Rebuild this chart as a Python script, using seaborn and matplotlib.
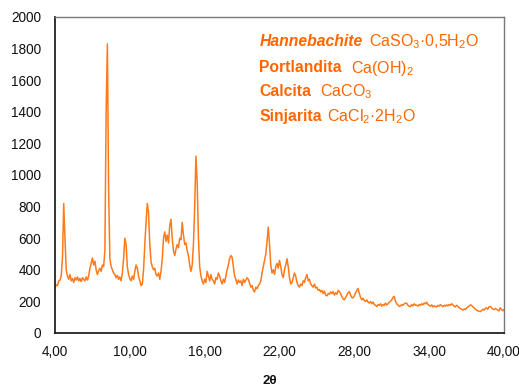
import numpy as np
import pandas as pd
import matplotlib
matplotlib.use("Agg")
import matplotlib.pyplot as plt
import seaborn as sns

# ---- data (2theta from 4.0 to 40.0 in steps of 0.1) ----
theta_start = 4.0
theta_step = 0.1
intensity = [
    # 4.0 - 4.9
    285, 305, 300, 330, 335, 360, 480, 820, 600, 400,
    # 5.0 - 5.9
    360, 340, 370, 330, 345, 320, 350, 335, 355, 330,
    # 6.0 - 6.9
    345, 325, 350, 340, 330, 355, 335, 360, 410, 440,
    # 7.0 - 7.9
    475, 430, 455, 400, 370, 395, 410, 390, 430, 420,
    # 8.0 - 8.9
    520, 1400, 1830, 900, 470, 420, 400, 380, 370, 350,
    # 9.0 - 9.9
    365, 340, 355, 330, 380, 470, 600, 560, 420, 370,
    # 10.0 - 10.9
    345, 330, 360, 340, 390, 430, 410, 360, 330, 300,
    # 11.0 - 11.9
    310, 400, 560, 700, 820, 760, 560, 450, 420, 400,
    # 12.0 - 12.9
    410, 370, 360, 380, 340, 390, 470, 600, 640, 580,
    # 13.0 - 13.9
    620, 570, 680, 720, 600, 520, 490, 530, 560, 540,
    # 14.0 - 14.9
    600, 590, 700, 620, 560, 570, 520, 490, 430, 390,
    # 15.0 - 15.9
    430, 560, 800, 1120, 950, 600, 420, 360, 330, 310,
    # 16.0 - 16.9
    340, 320, 390, 360, 330, 370, 340, 330, 310, 350,
    # 17.0 - 17.9
    340, 380, 360, 330, 310, 340, 320, 360, 400, 430,
    # 18.0 - 18.9
    470, 490, 480, 420, 360, 340, 310, 335, 320, 330,
    # 19.0 - 19.9
    300, 340, 320, 335, 350, 340, 315, 290, 300, 270,
    # 20.0 - 20.9
    260, 290, 280, 300, 310, 330, 380, 420, 460, 500,
    # 21.0 - 21.9
    580, 670, 560, 430, 380, 400, 370, 420, 440, 410,
    # 22.0 - 22.9
    460, 420, 370, 350, 400, 430, 470, 420, 350, 310,
    # 23.0 - 23.9
    320, 350, 380, 360, 320, 300, 290, 310, 300, 330,
    # 24.0 - 24.9
    320, 350, 370, 330, 340, 310, 300, 290, 310, 285,
    # 25.0 - 25.9
    290, 270, 275, 260, 270, 250, 265, 240, 235, 250,
    # 26.0 - 26.9
    245, 260, 250, 262, 240, 255, 245, 270, 262, 250,
    # 27.0 - 27.9
    230, 215, 210, 225, 240, 255, 262, 240, 225, 222,
    # 28.0 - 28.9
    235, 255, 270, 282, 250, 225, 210, 220, 205, 200,
    # 29.0 - 29.9
    210, 195, 190, 200, 185, 195, 180, 175, 168, 180,
    # 30.0 - 30.9
    175, 185, 170, 180, 175, 190, 177, 185, 195, 200,
    # 31.0 - 31.9
    210, 225, 232, 200, 185, 178, 168, 172, 180, 175,
    # 32.0 - 32.9
    185, 190, 188, 175, 170, 167, 180, 172, 185, 175,
    # 33.0 - 33.9
    177, 170, 180, 175, 185, 178, 190, 185, 195, 180,
    # 34.0 - 34.9
    175, 170, 178, 165, 172, 168, 165, 175, 170, 180,
    # 35.0 - 35.9
    172, 168, 175, 170, 178, 172, 180, 175, 185, 178,
    # 36.0 - 36.9
    170, 165, 175, 168, 160, 155, 150, 145, 152, 148,
    # 37.0 - 37.9
    158, 165, 170, 178, 175, 165, 160, 150, 145, 140,
    # 38.0 - 38.9
    138, 135, 142, 150, 145, 155, 160, 150, 165, 168,
    # 39.0 - 39.9
    160, 152, 148, 155, 150, 145, 140, 160, 148, 140,
    # 40.0
    150,
]
two_theta = [round(theta_start + i * theta_step, 1) for i in range(len(intensity))]

x_ticks = [4, 10, 16, 22, 28, 34, 40]
x_tick_labels = ["4,00", "10,00", "16,00", "22,00", "28,00", "34,00", "40,00"]
y_ticks = list(range(0, 2001, 200))

legend_names = ["Hannebachite", "Portlandita", "Calcita", "Sinjarita"]
legend_styles = ["italic", "normal", "normal", "normal"]
legend_formulas = ["CaSO$_3$·0,5H$_2$O", "Ca(OH)$_2$", "CaCO$_3$", "CaCl$_2$·2H$_2$O"]

df = pd.DataFrame({"2theta": two_theta, "I": intensity})

# ---- style ----
sns.set_theme(style="white")
plt.rcParams["font.family"] = ["Liberation Sans", "DejaVu Sans"]
plt.rcParams["mathtext.fontset"] = "custom"
plt.rcParams["mathtext.rm"] = "Liberation Sans"
plt.rcParams["mathtext.it"] = "Liberation Sans:italic"
plt.rcParams["mathtext.bf"] = "Liberation Sans:bold"

W, H = 519, 388
fig = plt.figure(figsize=(W / 100, H / 100), dpi=100)
ax = fig.add_axes([55 / W, 1 - 333 / H, (504 - 55) / W, (333 - 17) / H])

line_color = "#FF7A1A"
text_color = "#FF6600"

sns.lineplot(data=df, x="2theta", y="I", ax=ax, color=line_color, linewidth=1.1)

ax.set_xlim(4, 40)
ax.set_ylim(0, 2000)
ax.set_xticks(x_ticks)
ax.set_xticklabels(x_tick_labels)
ax.set_yticks(y_ticks)
ax.tick_params(axis="both", length=0, labelsize=9.8, colors="#111111")
ax.tick_params(axis="y", pad=10)
ax.tick_params(axis="x", pad=9)
ax.set_xlabel("")
ax.set_ylabel("")

for side in ["left", "bottom"]:
    ax.spines[side].set_color("#222222")
    ax.spines[side].set_linewidth(1.3)
for side in ["top", "right"]:
    ax.spines[side].set_color("#777777")
    ax.spines[side].set_linewidth(1.0)

fig.text(270 / W, 1 - 381 / H, "2θ", ha="center", va="center",
         fontsize=9.5, fontweight="bold", color="#111111")

# ---- legend-like annotation text ----
baselines = [46.5, 72.5, 96.5, 121.5]
starts = [260, 259.5, 259.5, 259.5]
gaps = [6, 9, 9, 5]
fig.canvas.draw()
renderer = fig.canvas.get_renderer()
for name, style, formula, yb, x0, gap in zip(legend_names, legend_styles,
                                               legend_formulas, baselines, starts, gaps):
    t1 = fig.text(x0 / W, 1 - yb / H, name, ha="left", va="baseline",
                  fontsize=11.3, fontweight="bold", fontstyle=style, color=text_color)
    bb = t1.get_window_extent(renderer=renderer)
    fig.text((bb.x1 + gap) / W, 1 - yb / H, formula, ha="left", va="baseline",
             fontsize=11.5, color=text_color)

fig.savefig("out.png", dpi=100)
